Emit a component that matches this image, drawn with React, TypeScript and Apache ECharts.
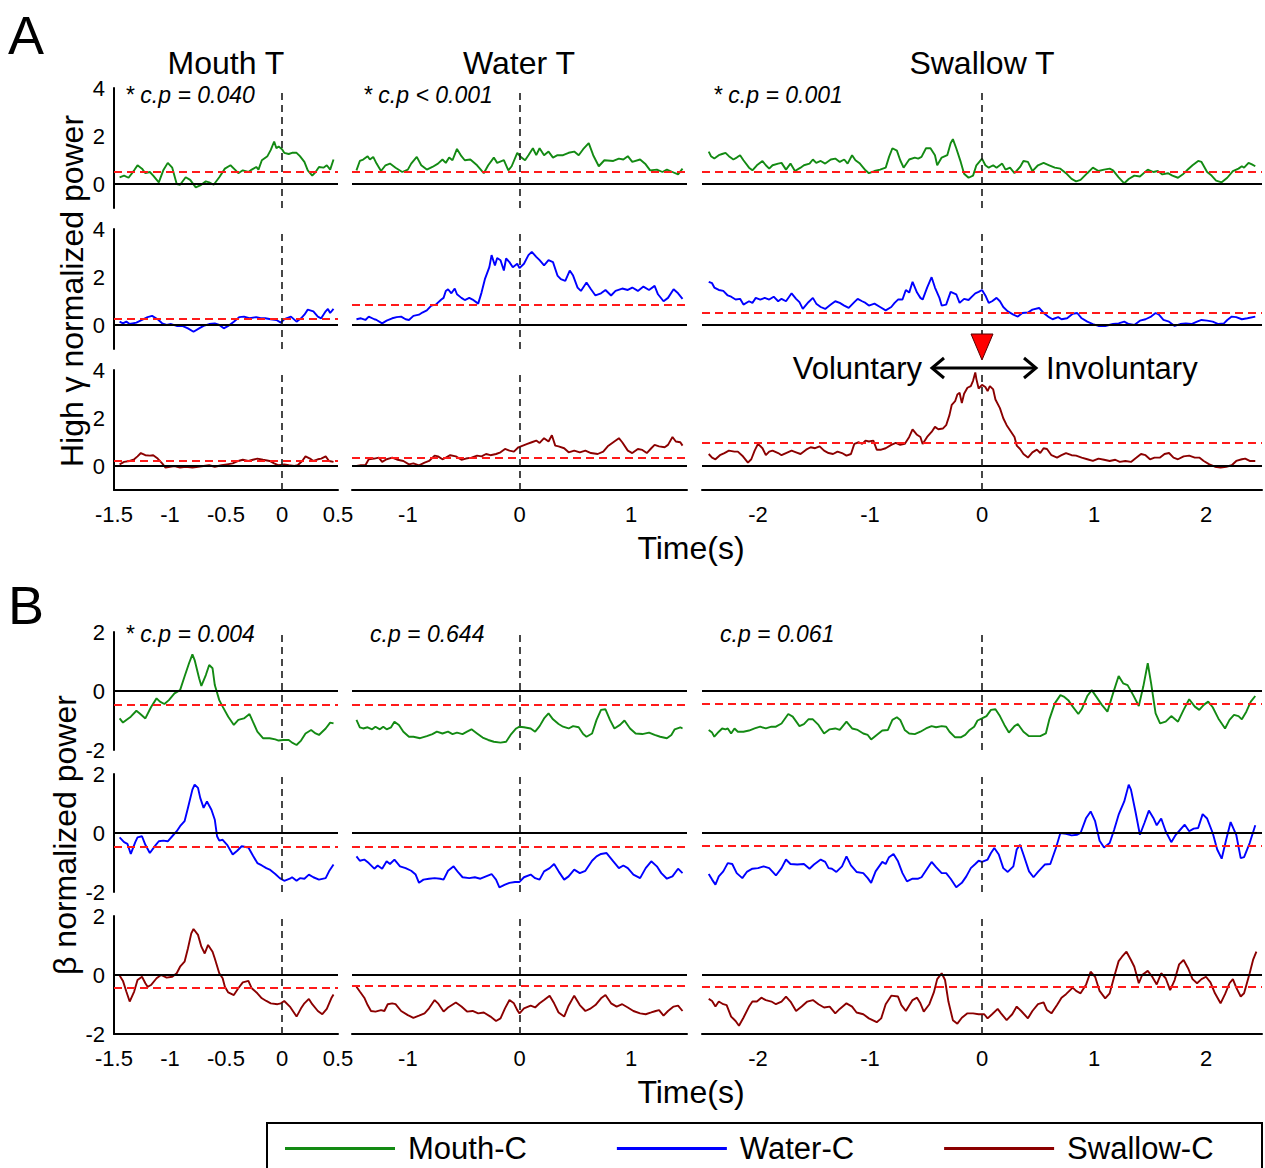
import React, { useEffect, useRef } from 'react';
import * as echarts from 'echarts';

const FONT = 'Liberation Sans, Arial, Helvetica, sans-serif';

const COLUMN_TITLES = ['Mouth T', 'Water T', 'Swallow T'];
const SERIES_NAMES = ['Mouth-C', 'Water-C', 'Swallow-C'];
const SERIES_COLORS = ['#138a13', '#0000ff', '#8b0000'];

const COL1_TICKS = [-1.5, -1, -0.5, 0, 0.5];
const COL2_TICKS = [-1, 0, 1];
const COL3_TICKS = [-2, -1, 0, 1, 2];
const A_YTICKS = [0, 2, 4];
const B_YTICKS = [-2, 0, 2];

const A_PVALUES = ['* c.p = 0.040', '* c.p < 0.001', '* c.p = 0.001'];
const B_PVALUES = ['* c.p = 0.004', 'c.p = 0.644', 'c.p = 0.061'];

// thresholds (red dashed) [row][col]
const A_THRESH = [[0.52, 0.5, 0.52], [0.26, 0.86, 0.53], [0.21, 0.36, 0.95]];
const B_THRESH = [[-0.45, -0.47, -0.44], [-0.45, -0.45, -0.43], [-0.43, -0.36, -0.4]];

// ---------- Panel A : High gamma ----------
const A_MOUTHC_MOUTHT = [[-1.45,0.28],[-1.41,0.35],[-1.37,0.26],[-1.32,0.57],[-1.29,0.78],[-1.25,0.64],[-1.22,0.45],[-1.18,0.5],[-1.15,0.35],[-1.10,0.07],[-1.06,0.57],[-1.02,0.88],[-0.98,0.68],[-0.94,0.0],[-0.91,-0.03],[-0.86,0.28],[-0.82,0.17],[-0.77,-0.14],[-0.73,-0.06],[-0.68,0.11],[-0.65,0.07],[-0.61,-0.03],[-0.56,0.28],[-0.51,0.64],[-0.46,0.78],[-0.42,0.6],[-0.39,0.45],[-0.35,0.57],[-0.30,0.5],[-0.27,0.6],[-0.23,0.71],[-0.21,0.6],[-0.18,0.99],[-0.13,1.16],[-0.10,1.42],[-0.07,1.77],[-0.05,1.49],[-0.03,1.56],[0,1.45],[0.02,1.3],[0.06,1.25],[0.09,1.3],[0.13,1.3],[0.16,1.16],[0.2,0.92],[0.23,0.57],[0.27,0.35],[0.3,0.5],[0.33,0.71],[0.37,0.68],[0.4,0.78],[0.43,0.6],[0.46,1.02]];
const A_MOUTHC_WATERT = [[-1.46,0.57],[-1.43,0.96],[-1.40,1.02],[-1.36,1.16],[-1.34,1.02],[-1.31,1.13],[-1.28,0.85],[-1.24,0.54],[-1.2,0.78],[-1.16,0.85],[-1.11,0.68],[-1.05,0.5],[-1.0,0.6],[-0.97,0.85],[-0.92,1.13],[-0.88,0.78],[-0.83,0.6],[-0.78,0.71],[-0.73,0.85],[-0.69,1.02],[-0.66,0.88],[-0.63,1.1],[-0.6,0.99],[-0.56,1.46],[-0.52,1.16],[-0.49,0.99],[-0.44,1.02],[-0.38,0.78],[-0.32,0.45],[-0.28,0.78],[-0.23,1.1],[-0.2,0.88],[-0.14,0.99],[-0.1,0.57],[-0.07,0.74],[-0.02,1.3],[0.01,1.13],[0.05,0.99],[0.08,1.2],[0.12,1.49],[0.15,1.2],[0.18,1.49],[0.22,1.2],[0.26,1.35],[0.3,1.1],[0.34,1.2],[0.39,1.2],[0.44,1.3],[0.49,1.35],[0.53,1.2],[0.57,1.45],[0.62,1.7],[0.66,1.2],[0.71,0.74],[0.76,0.99],[0.84,0.96],[0.89,1.06],[0.93,1.02],[0.97,1.16],[1.01,0.92],[1.08,1.02],[1.13,0.82],[1.17,0.57],[1.23,0.6],[1.28,0.5],[1.32,0.6],[1.37,0.5],[1.42,0.4],[1.46,0.64]];
const A_MOUTHC_SWALLOWT = [[-2.44,1.35],[-2.42,1.16],[-2.39,1.06],[-2.35,1.2],[-2.32,1.25],[-2.29,1.3],[-2.26,1.16],[-2.22,1.02],[-2.19,1.1],[-2.16,1.2],[-2.13,0.99],[-2.08,0.68],[-2.05,0.57],[-2.01,0.78],[-1.96,0.96],[-1.93,0.78],[-1.9,0.64],[-1.87,0.78],[-1.82,0.85],[-1.79,0.88],[-1.75,0.6],[-1.71,0.85],[-1.67,0.54],[-1.62,0.68],[-1.59,0.78],[-1.54,0.85],[-1.51,1.02],[-1.48,0.88],[-1.44,0.96],[-1.4,0.85],[-1.35,1.02],[-1.31,1.06],[-1.27,0.92],[-1.23,1.02],[-1.2,0.85],[-1.16,1.2],[-1.13,0.99],[-1.09,0.85],[-1.04,0.57],[-1.01,0.45],[-0.96,0.54],[-0.91,0.6],[-0.86,0.68],[-0.83,1.13],[-0.8,1.49],[-0.76,1.39],[-0.73,0.99],[-0.7,0.68],[-0.65,1.02],[-0.6,1.1],[-0.57,1.06],[-0.54,1.13],[-0.5,1.49],[-0.46,1.49],[-0.42,1.2],[-0.4,0.78],[-0.36,1.1],[-0.31,1.2],[-0.28,1.7],[-0.26,1.87],[-0.23,1.49],[-0.19,0.92],[-0.16,0.43],[-0.12,0.26],[-0.08,0.35],[-0.05,0.78],[0,1.06],[0.03,0.78],[0.06,0.68],[0.1,0.78],[0.13,0.68],[0.18,0.85],[0.21,0.6],[0.25,0.68],[0.29,0.45],[0.34,0.71],[0.37,0.96],[0.41,0.92],[0.45,0.54],[0.5,0.78],[0.55,0.88],[0.6,0.78],[0.65,0.68],[0.7,0.64],[0.75,0.45],[0.8,0.21],[0.84,0.11],[0.88,0.17],[0.94,0.45],[0.99,0.68],[1.04,0.54],[1.09,0.6],[1.14,0.64],[1.17,0.57],[1.22,0.28],[1.27,0.03],[1.31,0.21],[1.36,0.35],[1.41,0.31],[1.48,0.6],[1.53,0.5],[1.57,0.54],[1.61,0.4],[1.66,0.45],[1.7,0.35],[1.75,0.26],[1.8,0.43],[1.83,0.57],[1.88,0.78],[1.93,0.96],[1.96,0.92],[2.01,0.5],[2.05,0.35],[2.09,0.14],[2.14,0.07],[2.19,0.26],[2.24,0.54],[2.29,0.64],[2.32,0.74],[2.34,0.68],[2.38,0.88],[2.41,0.82],[2.44,0.74]];

const A_WATERC_MOUTHT = [[-1.45,0.14],[-1.42,0.07],[-1.39,0.14],[-1.36,0.04],[-1.3,0.1],[-1.25,0.21],[-1.2,0.33],[-1.16,0.38],[-1.11,0.24],[-1.07,0.07],[-1.03,0.0],[-0.99,0.04],[-0.94,-0.04],[-0.89,-0.04],[-0.84,-0.14],[-0.79,-0.28],[-0.74,-0.14],[-0.7,-0.04],[-0.65,0.04],[-0.6,0.07],[-0.56,0.0],[-0.52,-0.14],[-0.48,-0.04],[-0.43,0.14],[-0.38,0.33],[-0.34,0.35],[-0.29,0.28],[-0.23,0.33],[-0.19,0.28],[-0.15,0.28],[-0.1,0.24],[-0.05,0.21],[-0.01,0.1],[0.02,0.24],[0.08,0.35],[0.13,0.14],[0.17,0.28],[0.2,0.43],[0.23,0.64],[0.28,0.57],[0.32,0.35],[0.35,0.28],[0.39,0.57],[0.41,0.67],[0.43,0.5],[0.46,0.67]];
const A_WATERC_WATERT = [[-1.46,0.24],[-1.42,0.28],[-1.38,0.21],[-1.35,0.35],[-1.3,0.24],[-1.28,0.21],[-1.23,0.07],[-1.19,0.18],[-1.14,0.28],[-1.1,0.33],[-1.06,0.35],[-1.02,0.24],[-0.99,0.21],[-0.95,0.38],[-0.9,0.43],[-0.87,0.52],[-0.83,0.61],[-0.79,0.81],[-0.75,0.85],[-0.7,1.06],[-0.68,1.13],[-0.66,1.42],[-0.64,1.49],[-0.61,1.32],[-0.58,1.52],[-0.56,1.28],[-0.52,1.13],[-0.49,1.04],[-0.45,1.13],[-0.42,1.06],[-0.37,0.89],[-0.34,1.35],[-0.31,1.91],[-0.27,2.41],[-0.25,2.91],[-0.22,2.48],[-0.2,2.79],[-0.17,2.7],[-0.14,2.27],[-0.12,2.77],[-0.09,2.62],[-0.06,2.41],[-0.02,2.55],[0,2.37],[0.04,2.55],[0.08,2.91],[0.11,3.05],[0.15,2.84],[0.18,2.7],[0.22,2.48],[0.26,2.7],[0.3,2.62],[0.34,2.06],[0.37,1.91],[0.41,1.84],[0.45,2.27],[0.48,2.06],[0.52,1.56],[0.55,1.42],[0.6,1.77],[0.64,1.49],[0.68,1.23],[0.73,1.32],[0.77,1.46],[0.82,1.23],[0.86,1.42],[0.92,1.52],[0.97,1.46],[1.01,1.56],[1.06,1.42],[1.11,1.6],[1.16,1.46],[1.21,1.63],[1.24,1.28],[1.29,0.99],[1.33,1.13],[1.38,1.49],[1.42,1.32],[1.46,1.09]];
const A_WATERC_SWALLOWT = [[-2.44,1.8],[-2.41,1.74],[-2.39,1.56],[-2.35,1.46],[-2.31,1.42],[-2.27,1.23],[-2.24,1.18],[-2.2,1.06],[-2.16,1.09],[-2.13,0.85],[-2.08,0.99],[-2.05,0.92],[-2.02,1.13],[-1.98,1.06],[-1.94,1.13],[-1.9,1.06],[-1.86,1.18],[-1.82,0.99],[-1.79,1.09],[-1.75,0.99],[-1.7,1.32],[-1.66,1.09],[-1.63,0.95],[-1.6,0.67],[-1.55,0.95],[-1.51,1.13],[-1.48,0.89],[-1.44,0.75],[-1.4,0.67],[-1.35,0.85],[-1.31,0.99],[-1.27,0.92],[-1.23,0.81],[-1.19,0.71],[-1.14,0.95],[-1.11,1.09],[-1.07,0.99],[-1.04,0.92],[-1.01,0.81],[-0.96,0.89],[-0.91,0.75],[-0.86,0.61],[-0.81,0.75],[-0.78,0.92],[-0.75,1.06],[-0.71,1.06],[-0.68,1.46],[-0.65,1.35],[-0.62,1.8],[-0.58,1.35],[-0.55,1.13],[-0.53,1.06],[-0.49,1.56],[-0.45,1.99],[-0.42,1.56],[-0.38,1.13],[-0.36,0.81],[-0.32,0.85],[-0.28,1.38],[-0.23,1.28],[-0.2,0.92],[-0.16,1.09],[-0.12,1.04],[-0.09,1.18],[-0.06,1.32],[-0.03,1.38],[0,1.46],[0.03,1.23],[0.06,0.92],[0.09,0.99],[0.13,1.13],[0.16,0.99],[0.19,0.75],[0.23,0.57],[0.28,0.43],[0.32,0.35],[0.36,0.5],[0.41,0.52],[0.45,0.64],[0.51,0.71],[0.55,0.5],[0.59,0.35],[0.63,0.24],[0.68,0.33],[0.71,0.24],[0.76,0.28],[0.81,0.47],[0.85,0.5],[0.89,0.28],[0.94,0.14],[0.99,0.04],[1.04,-0.04],[1.1,-0.04],[1.17,0.04],[1.22,0.07],[1.27,0.14],[1.31,0.04],[1.36,0.0],[1.41,0.18],[1.46,0.24],[1.51,0.35],[1.55,0.5],[1.58,0.43],[1.62,0.21],[1.67,0.14],[1.72,-0.04],[1.77,0.04],[1.82,0.07],[1.87,0.04],[1.92,0.14],[1.96,0.21],[2.01,0.18],[2.06,0.14],[2.11,0.04],[2.16,0.07],[2.19,0.21],[2.23,0.35],[2.27,0.33],[2.32,0.24],[2.37,0.28],[2.44,0.35]];

const A_SWALLOWC_MOUTHT = [[-1.45,0.07],[-1.41,0.17],[-1.36,0.21],[-1.32,0.28],[-1.29,0.4],[-1.26,0.54],[-1.22,0.45],[-1.18,0.43],[-1.15,0.45],[-1.11,0.31],[-1.07,0.11],[-1.04,-0.07],[-1.0,-0.03],[-0.96,0.0],[-0.91,-0.07],[-0.86,-0.03],[-0.8,-0.07],[-0.75,-0.03],[-0.7,0.0],[-0.65,0.03],[-0.6,-0.03],[-0.54,0.03],[-0.49,0.07],[-0.44,0.11],[-0.39,0.21],[-0.35,0.26],[-0.3,0.21],[-0.26,0.26],[-0.22,0.31],[-0.17,0.26],[-0.11,0.21],[-0.07,0.11],[-0.03,0.03],[0.02,0.07],[0.06,0.03],[0.11,0.0],[0.14,0.03],[0.18,0.21],[0.21,0.4],[0.25,0.31],[0.28,0.21],[0.32,0.28],[0.35,0.31],[0.39,0.4],[0.42,0.21],[0.46,0.17]];
const A_SWALLOWC_WATERT = [[-1.46,0],[-1.42,0.03],[-1.38,0.03],[-1.35,0.28],[-1.3,0.31],[-1.26,0.35],[-1.23,0.17],[-1.19,0.28],[-1.14,0.35],[-1.09,0.26],[-1.04,0.21],[-0.99,0.07],[-0.95,0.11],[-0.9,0.03],[-0.85,0.14],[-0.81,0.21],[-0.76,0.43],[-0.73,0.4],[-0.69,0.28],[-0.66,0.35],[-0.62,0.45],[-0.57,0.4],[-0.52,0.26],[-0.48,0.31],[-0.43,0.35],[-0.38,0.43],[-0.34,0.4],[-0.3,0.5],[-0.26,0.45],[-0.21,0.5],[-0.17,0.57],[-0.13,0.71],[-0.09,0.64],[-0.05,0.6],[-0.01,0.78],[0.03,0.85],[0.07,0.92],[0.11,0.99],[0.15,1.06],[0.18,0.96],[0.22,1.16],[0.26,1.02],[0.29,1.28],[0.32,0.85],[0.35,0.82],[0.4,0.74],[0.44,0.57],[0.49,0.64],[0.54,0.57],[0.59,0.64],[0.64,0.54],[0.7,0.5],[0.75,0.6],[0.79,0.82],[0.84,0.99],[0.89,1.16],[0.92,0.99],[0.97,0.64],[1.01,0.54],[1.06,0.71],[1.1,0.67],[1.14,0.54],[1.18,0.74],[1.21,0.88],[1.25,0.82],[1.3,0.78],[1.33,0.88],[1.37,1.21],[1.4,1.02],[1.44,0.99],[1.46,0.85]];
const A_SWALLOWC_SWALLOWT = [[-2.44,0.5],[-2.41,0.35],[-2.38,0.28],[-2.34,0.45],[-2.3,0.54],[-2.26,0.64],[-2.21,0.6],[-2.18,0.6],[-2.14,0.43],[-2.09,0.14],[-2.06,0.28],[-2.03,0.64],[-2.0,0.92],[-1.96,0.74],[-1.93,0.45],[-1.9,0.6],[-1.87,0.64],[-1.82,0.54],[-1.79,0.45],[-1.75,0.54],[-1.7,0.64],[-1.66,0.57],[-1.62,0.5],[-1.57,0.68],[-1.53,0.78],[-1.49,0.74],[-1.45,0.82],[-1.41,0.64],[-1.37,0.54],[-1.33,0.5],[-1.29,0.6],[-1.25,0.54],[-1.21,0.43],[-1.17,0.5],[-1.14,0.92],[-1.1,0.99],[-1.07,0.92],[-1.04,1.06],[-1.01,1.02],[-0.97,1.06],[-0.94,0.68],[-0.9,0.68],[-0.86,0.74],[-0.81,0.88],[-0.77,0.96],[-0.73,0.88],[-0.69,0.92],[-0.65,1.21],[-0.62,1.53],[-0.58,1.3],[-0.55,1.21],[-0.53,0.92],[-0.49,1.21],[-0.45,1.42],[-0.42,1.63],[-0.39,1.53],[-0.35,1.56],[-0.32,1.7],[-0.29,2.13],[-0.27,2.55],[-0.24,2.7],[-0.22,2.98],[-0.2,3.05],[-0.18,2.62],[-0.16,3.01],[-0.13,3.26],[-0.1,3.33],[-0.08,3.55],[-0.06,3.9],[-0.05,3.62],[-0.03,3.23],[0,3.38],[0.03,3.29],[0.05,3.12],[0.07,3.33],[0.1,3.19],[0.12,2.77],[0.16,2.41],[0.19,1.99],[0.22,1.7],[0.25,1.49],[0.29,1.21],[0.31,0.85],[0.34,0.71],[0.37,0.5],[0.41,0.35],[0.45,0.57],[0.49,0.68],[0.52,0.54],[0.55,0.74],[0.58,0.71],[0.62,0.45],[0.67,0.35],[0.71,0.45],[0.75,0.54],[0.8,0.45],[0.84,0.43],[0.89,0.35],[0.94,0.28],[0.99,0.21],[1.04,0.31],[1.09,0.26],[1.14,0.21],[1.19,0.26],[1.23,0.17],[1.28,0.21],[1.33,0.17],[1.38,0.35],[1.42,0.5],[1.46,0.45],[1.5,0.28],[1.54,0.35],[1.59,0.35],[1.63,0.5],[1.67,0.54],[1.71,0.35],[1.75,0.28],[1.8,0.4],[1.85,0.43],[1.9,0.35],[1.94,0.35],[1.98,0.21],[2.03,0.07],[2.08,-0.03],[2.13,-0.07],[2.18,-0.03],[2.23,0.03],[2.27,0.21],[2.32,0.28],[2.35,0.31],[2.39,0.21],[2.44,0.21]];

// ---------- Panel B : beta ----------
const B_MOUTHC_MOUTHT = [[-1.45,-0.93],[-1.42,-1.07],[-1.39,-0.98],[-1.35,-0.87],[-1.3,-0.67],[-1.27,-0.76],[-1.22,-0.93],[-1.17,-0.55],[-1.12,-0.25],[-1.09,-0.36],[-1.05,-0.44],[-1.01,-0.31],[-0.96,-0.08],[-0.91,0.03],[-0.87,0.49],[-0.83,0.94],[-0.8,1.24],[-0.78,1.05],[-0.74,0.43],[-0.72,0.17],[-0.68,0.54],[-0.65,0.88],[-0.62,0.77],[-0.6,0.2],[-0.56,-0.31],[-0.53,-0.53],[-0.48,-0.87],[-0.43,-1.15],[-0.39,-0.98],[-0.34,-0.93],[-0.29,-0.78],[-0.26,-1.04],[-0.22,-1.38],[-0.17,-1.6],[-0.11,-1.6],[-0.06,-1.64],[-0.03,-1.68],[0.01,-1.66],[0.06,-1.66],[0.09,-1.75],[0.13,-1.83],[0.17,-1.68],[0.21,-1.44],[0.26,-1.32],[0.3,-1.44],[0.33,-1.49],[0.39,-1.27],[0.43,-1.07],[0.46,-1.1]];
const B_MOUTHC_WATERT = [[-1.46,-0.98],[-1.43,-1.23],[-1.4,-1.27],[-1.36,-1.23],[-1.32,-1.3],[-1.29,-1.21],[-1.25,-1.3],[-1.22,-1.21],[-1.19,-1.3],[-1.15,-1.23],[-1.12,-1.04],[-1.08,-1.15],[-1.04,-1.38],[-0.99,-1.55],[-0.95,-1.55],[-0.89,-1.6],[-0.83,-1.53],[-0.78,-1.46],[-0.74,-1.38],[-0.69,-1.44],[-0.64,-1.38],[-0.6,-1.46],[-0.56,-1.41],[-0.51,-1.46],[-0.47,-1.38],[-0.43,-1.3],[-0.38,-1.44],[-0.33,-1.58],[-0.28,-1.66],[-0.23,-1.72],[-0.17,-1.75],[-0.12,-1.72],[-0.08,-1.49],[-0.03,-1.27],[0,-1.21],[0.04,-1.23],[0.1,-1.27],[0.14,-1.38],[0.18,-1.19],[0.22,-0.93],[0.26,-0.76],[0.3,-0.96],[0.35,-1.12],[0.39,-1.21],[0.44,-1.27],[0.48,-1.19],[0.53,-1.23],[0.57,-1.46],[0.6,-1.55],[0.65,-1.44],[0.69,-0.98],[0.73,-0.64],[0.77,-0.62],[0.81,-0.98],[0.85,-1.27],[0.9,-1.15],[0.94,-1.0],[0.99,-1.27],[1.04,-1.44],[1.1,-1.46],[1.16,-1.41],[1.21,-1.49],[1.26,-1.55],[1.32,-1.6],[1.36,-1.49],[1.39,-1.3],[1.44,-1.23],[1.46,-1.27]];
const B_MOUTHC_SWALLOWT = [[-2.44,-1.32],[-2.41,-1.41],[-2.39,-1.55],[-2.35,-1.38],[-2.32,-1.27],[-2.29,-1.3],[-2.27,-1.27],[-2.24,-1.44],[-2.21,-1.27],[-2.18,-1.38],[-2.13,-1.38],[-2.08,-1.34],[-2.03,-1.27],[-1.98,-1.21],[-1.93,-1.27],[-1.88,-1.21],[-1.84,-1.21],[-1.79,-1.1],[-1.73,-0.78],[-1.69,-0.87],[-1.63,-1.19],[-1.59,-1.12],[-1.55,-0.96],[-1.51,-0.96],[-1.46,-1.15],[-1.41,-1.44],[-1.36,-1.3],[-1.31,-1.27],[-1.27,-1.32],[-1.21,-1.04],[-1.16,-1.27],[-1.11,-1.32],[-1.06,-1.44],[-1.02,-1.49],[-0.99,-1.64],[-0.94,-1.49],[-0.89,-1.34],[-0.84,-1.32],[-0.8,-0.98],[-0.76,-0.89],[-0.73,-0.98],[-0.69,-1.32],[-0.65,-1.44],[-0.6,-1.46],[-0.55,-1.38],[-0.5,-1.27],[-0.45,-1.19],[-0.41,-1.23],[-0.36,-1.19],[-0.32,-1.21],[-0.29,-1.38],[-0.24,-1.57],[-0.19,-1.57],[-0.15,-1.49],[-0.11,-1.32],[-0.07,-1.21],[-0.04,-1.0],[0,-0.93],[0.04,-0.85],[0.08,-0.64],[0.12,-0.62],[0.16,-0.85],[0.2,-1.15],[0.24,-1.41],[0.29,-1.19],[0.32,-1.12],[0.37,-1.38],[0.42,-1.53],[0.47,-1.53],[0.52,-1.53],[0.57,-1.44],[0.6,-0.98],[0.65,-0.42],[0.7,-0.14],[0.73,-0.19],[0.77,-0.31],[0.81,-0.53],[0.86,-0.78],[0.89,-0.62],[0.94,-0.17],[0.98,0.03],[1.02,-0.19],[1.07,-0.47],[1.12,-0.7],[1.17,-0.08],[1.22,0.51],[1.26,0.26],[1.3,0.2],[1.35,-0.14],[1.4,-0.51],[1.44,0.15],[1.48,0.94],[1.51,0.26],[1.55,-0.76],[1.59,-1.1],[1.64,-1.04],[1.69,-0.85],[1.75,-1.04],[1.8,-0.64],[1.85,-0.28],[1.9,-0.53],[1.94,-0.64],[1.98,-0.47],[2.02,-0.36],[2.06,-0.55],[2.11,-0.93],[2.17,-1.27],[2.21,-0.98],[2.25,-0.81],[2.29,-0.85],[2.32,-0.96],[2.36,-0.7],[2.4,-0.36],[2.44,-0.17]];

const B_WATERC_MOUTHT = [[-1.45,-0.15],[-1.41,-0.31],[-1.38,-0.37],[-1.35,-0.71],[-1.31,-0.31],[-1.29,-0.15],[-1.25,-0.11],[-1.22,-0.4],[-1.18,-0.68],[-1.13,-0.42],[-1.1,-0.28],[-1.06,-0.26],[-1.02,-0.28],[-0.98,-0.11],[-0.94,0.06],[-0.91,0.23],[-0.87,0.4],[-0.84,0.85],[-0.8,1.47],[-0.78,1.64],[-0.75,1.53],[-0.73,1.19],[-0.7,0.85],[-0.67,1.07],[-0.63,0.79],[-0.6,0.45],[-0.58,-0.11],[-0.56,-0.26],[-0.53,-0.23],[-0.49,-0.4],[-0.44,-0.73],[-0.4,-0.6],[-0.36,-0.45],[-0.3,-0.49],[-0.26,-0.76],[-0.22,-1.02],[-0.18,-1.1],[-0.14,-1.19],[-0.11,-1.24],[-0.06,-1.39],[-0.02,-1.53],[0.02,-1.62],[0.07,-1.55],[0.09,-1.5],[0.13,-1.62],[0.16,-1.53],[0.2,-1.55],[0.24,-1.41],[0.28,-1.5],[0.33,-1.58],[0.39,-1.53],[0.42,-1.3],[0.46,-1.07]];
const B_WATERC_WATERT = [[-1.46,-0.79],[-1.43,-0.94],[-1.39,-0.9],[-1.35,-1.02],[-1.3,-1.21],[-1.27,-1.1],[-1.23,-1.21],[-1.19,-0.96],[-1.16,-1.05],[-1.12,-0.9],[-1.07,-1.13],[-1.02,-1.19],[-0.97,-1.28],[-0.93,-1.41],[-0.9,-1.69],[-0.86,-1.58],[-0.81,-1.55],[-0.76,-1.53],[-0.71,-1.55],[-0.68,-1.58],[-0.64,-1.28],[-0.59,-1.13],[-0.55,-1.33],[-0.51,-1.5],[-0.45,-1.53],[-0.4,-1.5],[-0.35,-1.55],[-0.3,-1.47],[-0.25,-1.39],[-0.21,-1.58],[-0.18,-1.84],[-0.13,-1.75],[-0.09,-1.69],[-0.04,-1.66],[0,-1.66],[0.04,-1.5],[0.1,-1.41],[0.14,-1.53],[0.18,-1.58],[0.22,-1.3],[0.27,-1.19],[0.31,-1.05],[0.35,-1.3],[0.4,-1.58],[0.44,-1.47],[0.49,-1.24],[0.54,-1.36],[0.59,-1.28],[0.65,-0.94],[0.69,-0.79],[0.73,-0.71],[0.78,-0.68],[0.84,-0.96],[0.89,-1.19],[0.93,-1.1],[0.97,-1.19],[1.02,-1.41],[1.08,-1.53],[1.13,-1.19],[1.18,-0.96],[1.23,-1.13],[1.27,-1.36],[1.32,-1.55],[1.37,-1.47],[1.42,-1.21],[1.46,-1.36]];
const B_WATERC_SWALLOWT = [[-2.44,-1.39],[-2.41,-1.58],[-2.38,-1.75],[-2.35,-1.47],[-2.31,-1.3],[-2.27,-1.02],[-2.23,-1.05],[-2.19,-1.36],[-2.14,-1.53],[-2.1,-1.32],[-2.05,-1.21],[-2.0,-1.19],[-1.95,-1.13],[-1.9,-1.19],[-1.84,-1.44],[-1.79,-1.19],[-1.75,-0.9],[-1.71,-1.05],[-1.65,-1.07],[-1.59,-1.05],[-1.54,-1.21],[-1.5,-1.07],[-1.44,-0.9],[-1.4,-0.98],[-1.37,-1.19],[-1.34,-1.21],[-1.3,-1.32],[-1.25,-1.13],[-1.21,-0.79],[-1.17,-1.1],[-1.12,-1.32],[-1.06,-1.36],[-1.02,-1.53],[-0.99,-1.69],[-0.95,-1.3],[-0.89,-0.98],[-0.86,-1.05],[-0.83,-0.82],[-0.79,-0.71],[-0.75,-0.96],[-0.71,-1.36],[-0.67,-1.64],[-0.62,-1.55],[-0.57,-1.55],[-0.54,-1.5],[-0.49,-1.21],[-0.45,-0.98],[-0.41,-1.16],[-0.36,-1.36],[-0.32,-1.36],[-0.28,-1.55],[-0.23,-1.84],[-0.18,-1.69],[-0.14,-1.47],[-0.1,-1.19],[-0.06,-1.05],[-0.03,-0.94],[0,-0.98],[0.05,-0.9],[0.08,-0.68],[0.11,-0.51],[0.15,-0.73],[0.19,-1.19],[0.23,-1.32],[0.28,-1.13],[0.31,-0.56],[0.34,-0.4],[0.37,-0.73],[0.42,-1.3],[0.46,-1.5],[0.5,-1.32],[0.56,-1.07],[0.61,-1.05],[0.66,-0.51],[0.7,0.0],[0.75,-0.03],[0.8,-0.08],[0.85,-0.06],[0.88,0.0],[0.93,0.51],[0.97,0.73],[1.01,0.4],[1.05,-0.26],[1.09,-0.49],[1.14,-0.34],[1.18,0.11],[1.22,0.62],[1.27,1.07],[1.31,1.64],[1.33,1.47],[1.37,0.73],[1.41,-0.06],[1.45,0.34],[1.49,0.76],[1.53,0.51],[1.56,0.26],[1.6,0.49],[1.64,0.06],[1.69,-0.31],[1.73,-0.06],[1.77,0.11],[1.81,0.28],[1.85,0.06],[1.89,0.15],[1.93,0.17],[1.97,0.64],[2.01,0.49],[2.06,0.0],[2.1,-0.56],[2.14,-0.87],[2.18,-0.23],[2.22,0.37],[2.27,-0.06],[2.31,-0.85],[2.34,-0.82],[2.39,-0.34],[2.44,0.26]];

const B_SWALLOWC_MOUTHT = [[-1.45,-0.02],[-1.42,-0.2],[-1.39,-0.56],[-1.36,-0.9],[-1.32,-0.56],[-1.29,-0.17],[-1.25,-0.06],[-1.22,-0.28],[-1.2,-0.4],[-1.17,-0.34],[-1.12,-0.11],[-1.08,0.0],[-1.03,-0.09],[-0.98,-0.06],[-0.94,0.06],[-0.91,0.28],[-0.87,0.45],[-0.84,0.9],[-0.81,1.41],[-0.79,1.56],[-0.75,1.36],[-0.72,0.96],[-0.69,0.73],[-0.66,1.02],[-0.62,0.79],[-0.6,0.56],[-0.56,0.06],[-0.53,-0.11],[-0.51,-0.4],[-0.48,-0.59],[-0.43,-0.68],[-0.39,-0.45],[-0.35,-0.25],[-0.3,-0.2],[-0.27,-0.45],[-0.22,-0.62],[-0.18,-0.79],[-0.14,-0.88],[-0.1,-0.96],[-0.04,-0.99],[-0.01,-0.96],[0.02,-0.88],[0.07,-1.07],[0.1,-1.24],[0.13,-1.41],[0.17,-1.13],[0.2,-0.96],[0.24,-0.81],[0.27,-0.99],[0.32,-1.22],[0.36,-1.33],[0.4,-1.15],[0.44,-0.79],[0.46,-0.66]];
const B_SWALLOWC_WATERT = [[-1.46,-0.4],[-1.43,-0.56],[-1.39,-0.77],[-1.36,-1.02],[-1.33,-1.22],[-1.29,-1.24],[-1.24,-1.19],[-1.21,-1.22],[-1.18,-0.99],[-1.14,-0.96],[-1.11,-0.99],[-1.06,-1.22],[-1.0,-1.36],[-0.95,-1.45],[-0.9,-1.38],[-0.85,-1.3],[-0.81,-1.13],[-0.76,-0.85],[-0.73,-0.96],[-0.68,-1.24],[-0.64,-1.1],[-0.57,-0.93],[-0.52,-1.07],[-0.47,-1.24],[-0.42,-1.22],[-0.37,-1.3],[-0.32,-1.27],[-0.26,-1.41],[-0.21,-1.56],[-0.17,-1.47],[-0.13,-1.13],[-0.09,-0.85],[-0.05,-0.96],[-0.02,-1.19],[0,-1.3],[0.04,-1.13],[0.1,-1.04],[0.14,-1.1],[0.18,-0.96],[0.22,-0.85],[0.27,-0.7],[0.31,-0.96],[0.35,-1.27],[0.4,-1.41],[0.44,-1.04],[0.49,-0.7],[0.54,-1.02],[0.59,-1.22],[0.63,-1.15],[0.68,-1.02],[0.73,-0.79],[0.77,-0.68],[0.82,-0.96],[0.87,-1.07],[0.92,-0.99],[0.97,-1.1],[1.02,-1.22],[1.08,-1.3],[1.13,-1.33],[1.18,-1.27],[1.22,-1.22],[1.25,-1.19],[1.29,-1.38],[1.33,-1.22],[1.38,-1.07],[1.42,-1.04],[1.46,-1.22]];
const B_SWALLOWC_SWALLOWT = [[-2.44,-0.81],[-2.41,-0.88],[-2.38,-1.07],[-2.35,-0.9],[-2.31,-0.99],[-2.28,-1.02],[-2.24,-1.41],[-2.2,-1.56],[-2.17,-1.72],[-2.13,-1.45],[-2.08,-1.07],[-2.05,-0.9],[-2.01,-0.9],[-1.97,-0.77],[-1.93,-0.85],[-1.88,-0.9],[-1.84,-0.99],[-1.79,-0.9],[-1.75,-0.73],[-1.71,-0.9],[-1.66,-1.22],[-1.61,-1.07],[-1.56,-0.9],[-1.51,-0.85],[-1.46,-0.99],[-1.41,-1.1],[-1.36,-1.07],[-1.31,-1.3],[-1.27,-1.15],[-1.21,-0.96],[-1.16,-1.07],[-1.12,-1.27],[-1.06,-1.33],[-1.01,-1.47],[-0.94,-1.6],[-0.9,-1.47],[-0.86,-0.99],[-0.81,-0.7],[-0.75,-0.73],[-0.72,-1.02],[-0.68,-1.22],[-0.62,-0.85],[-0.58,-0.77],[-0.55,-0.96],[-0.52,-1.24],[-0.47,-0.99],[-0.43,-0.59],[-0.4,-0.14],[-0.36,0.06],[-0.33,-0.17],[-0.3,-0.9],[-0.26,-1.53],[-0.22,-1.65],[-0.18,-1.45],[-0.13,-1.3],[-0.08,-1.3],[-0.03,-1.33],[0.02,-1.33],[0.05,-1.47],[0.09,-1.33],[0.14,-1.15],[0.17,-1.3],[0.22,-1.53],[0.27,-1.33],[0.31,-1.07],[0.35,-1.22],[0.41,-1.47],[0.45,-1.22],[0.5,-0.99],[0.55,-0.93],[0.58,-1.19],[0.62,-1.3],[0.67,-1.02],[0.71,-0.77],[0.75,-0.65],[0.81,-0.43],[0.84,-0.54],[0.88,-0.62],[0.93,-0.32],[0.97,0.11],[1.01,-0.06],[1.05,-0.54],[1.1,-0.79],[1.14,-0.62],[1.18,-0.06],[1.22,0.47],[1.25,0.62],[1.29,0.79],[1.33,0.51],[1.36,0.28],[1.4,-0.28],[1.43,0.0],[1.48,0.14],[1.52,-0.06],[1.56,-0.32],[1.6,0.06],[1.64,-0.11],[1.68,-0.51],[1.72,-0.17],[1.76,0.36],[1.8,0.51],[1.84,0.23],[1.88,-0.14],[1.92,-0.28],[1.96,-0.14],[2.0,-0.06],[2.04,-0.25],[2.08,-0.62],[2.13,-0.96],[2.17,-0.65],[2.21,-0.28],[2.24,-0.14],[2.27,-0.43],[2.31,-0.73],[2.34,-0.62],[2.39,0.06],[2.42,0.51],[2.45,0.79]];

const A_DATA = [
  [A_MOUTHC_MOUTHT, A_MOUTHC_WATERT, A_MOUTHC_SWALLOWT],
  [A_WATERC_MOUTHT, A_WATERC_WATERT, A_WATERC_SWALLOWT],
  [A_SWALLOWC_MOUTHT, A_SWALLOWC_WATERT, A_SWALLOWC_SWALLOWT],
];
const B_DATA = [
  [B_MOUTHC_MOUTHT, B_MOUTHC_WATERT, B_MOUTHC_SWALLOWT],
  [B_WATERC_MOUTHT, B_WATERC_WATERT, B_WATERC_SWALLOWT],
  [B_SWALLOWC_MOUTHT, B_SWALLOWC_WATERT, B_SWALLOWC_SWALLOWT],
];

// layout (pixels)
const COLS = [
  { left: 114, width: 224, min: -1.5, max: 0.5, ticks: COL1_TICKS },
  { left: 352, width: 335, min: -1.5, max: 1.5, ticks: COL2_TICKS },
  { left: 702, width: 560, min: -2.5, max: 2.5, ticks: COL3_TICKS },
];
const A_TOPS = [88, 229, 370];
const B_TOPS = [632, 774, 916];

function buildOption() {
  const grid: any[] = [];
  const xAxis: any[] = [];
  const yAxis: any[] = [];
  const series: any[] = [];

  const panels = [
    { tops: A_TOPS, height: 120, ymin: -1, ymax: 4, yint: 1, yticks: A_YTICKS, data: A_DATA, thr: A_THRESH },
    { tops: B_TOPS, height: 118, ymin: -2, ymax: 2, yint: 2, yticks: B_YTICKS, data: B_DATA, thr: B_THRESH },
  ];

  panels.forEach((p) => {
    for (let r = 0; r < 3; r++) {
      for (let c = 0; c < 3; c++) {
        const idx = grid.length;
        const col = COLS[c];
        const bottomRow = r === 2;
        grid.push({ left: col.left, top: p.tops[r], width: col.width, height: p.height, containLabel: false });
        xAxis.push({
          type: 'value', gridIndex: idx, min: col.min, max: col.max, interval: 0.5,
          axisLine: { show: bottomRow, onZero: false, lineStyle: { color: '#000', width: 2 } },
          axisTick: { show: false },
          splitLine: { show: false },
          axisLabel: {
            show: bottomRow, margin: 13, fontSize: 22, color: '#000', fontFamily: FONT,
            formatter: (v: number) => (col.ticks.some((t) => Math.abs(t - v) < 1e-6) ? String(v) : ''),
          },
        });
        yAxis.push({
          type: 'value', gridIndex: idx, min: p.ymin, max: p.ymax, interval: p.yint,
          axisLine: { show: c === 0, onZero: false, lineStyle: { color: '#000', width: 2 } },
          axisTick: { show: false },
          splitLine: { show: false },
          axisLabel: {
            show: c === 0, margin: 9, fontSize: 22, color: '#000', fontFamily: FONT,
            formatter: (v: number) => (p.yticks.some((t) => Math.abs(t - v) < 1e-6) ? String(v) : ''),
          },
        });
        series.push({
          type: 'line', name: SERIES_NAMES[r], xAxisIndex: idx, yAxisIndex: idx,
          data: p.data[r][c], showSymbol: false, symbol: 'none', color: SERIES_COLORS[r],
          lineStyle: { color: SERIES_COLORS[r], width: 1.9 },
          emphasis: { disabled: true },
          z: 3,
          markLine: {
            silent: true, symbol: ['none', 'none'], label: { show: false }, animation: false,
            data: [
              { yAxis: 0, lineStyle: { color: '#000', width: 2, type: 'solid' } },
              { xAxis: 0, lineStyle: { color: '#1a1a1a', width: 1.6, type: [7, 5] } },
              { yAxis: p.thr[r][c], lineStyle: { color: '#ff1a1a', width: 2, type: [8, 5] } },
            ],
          },
        });
      }
    }
  });

  const t = (text: string, x: number, y: number, size: number, extra: any = {}) => ({
    type: 'text', x, y, silent: true,
    style: { text, fontSize: size, fontFamily: FONT, fill: '#000', textAlign: 'center', textVerticalAlign: 'middle', ...extra },
  });

  const graphic: any[] = [
    t('A', 8, 35, 54, { textAlign: 'left' }),
    t('B', 8, 605, 54, { textAlign: 'left' }),
    t(COLUMN_TITLES[0], 226, 63, 32),
    t(COLUMN_TITLES[1], 519, 63, 32),
    t(COLUMN_TITLES[2], 982, 63, 32),
    t('Time(s)', 691, 548, 32),
    t('Time(s)', 691, 1092, 32),
    { ...t('High γ normalized power', 72, 291, 32), rotation: Math.PI / 2 },
    { ...t('β normalized power', 65, 835, 32), rotation: Math.PI / 2 },
    t(A_PVALUES[0], 125, 95, 23, { textAlign: 'left', fontStyle: 'italic' }),
    t(A_PVALUES[1], 363, 95, 23, { textAlign: 'left', fontStyle: 'italic' }),
    t(A_PVALUES[2], 713, 95, 23, { textAlign: 'left', fontStyle: 'italic' }),
    t(B_PVALUES[0], 125, 634, 23, { textAlign: 'left', fontStyle: 'italic' }),
    t(B_PVALUES[1], 370, 634, 23, { textAlign: 'left', fontStyle: 'italic' }),
    t(B_PVALUES[2], 720, 634, 23, { textAlign: 'left', fontStyle: 'italic' }),
    t('Voluntary', 922, 368, 31, { textAlign: 'right' }),
    t('Involuntary', 1046, 368, 31, { textAlign: 'left' }),
    { type: 'line', silent: true, shape: { x1: 932, y1: 368, x2: 1036, y2: 368 }, style: { stroke: '#000', lineWidth: 3 } },
    { type: 'polyline', silent: true, shape: { points: [[944, 358], [932, 368], [944, 378]] }, style: { stroke: '#000', lineWidth: 3, fill: 'none' } },
    { type: 'polyline', silent: true, shape: { points: [[1024, 358], [1036, 368], [1024, 378]] }, style: { stroke: '#000', lineWidth: 3, fill: 'none' } },
    { type: 'polygon', silent: true, z: 10, shape: { points: [[971, 334], [993, 334], [982, 360]] }, style: { fill: '#ff0000', stroke: '#550000', lineWidth: 1 } },
    { type: 'rect', silent: true, shape: { x: 267, y: 1123, width: 995, height: 60 }, style: { fill: 'none', stroke: '#000', lineWidth: 2 } },
  ];

  return {
    animation: false,
    backgroundColor: '#fff',
    grid, xAxis, yAxis, series, graphic,
    legend: {
      data: SERIES_NAMES, left: 280, top: 1128, itemWidth: 110, itemHeight: 3, icon: 'rect',
      itemGap: 90, selectedMode: false,
      textStyle: { fontSize: 31, fontFamily: FONT, color: '#000', padding: [0, 0, 0, 8] },
    },
  };
}

export default function App() {
  const ref = useRef<HTMLDivElement>(null);
  useEffect(() => {
    document.body.style.margin = '0';
    if (!ref.current) return;
    const chart = echarts.init(ref.current, undefined, { renderer: 'svg' });
    chart.setOption(buildOption() as any);
    return () => chart.dispose();
  }, []);
  return <div ref={ref} style={{ position: 'absolute', left: 0, top: 0, width: 1265, height: 1168, background: '#fff' }} />;
}
